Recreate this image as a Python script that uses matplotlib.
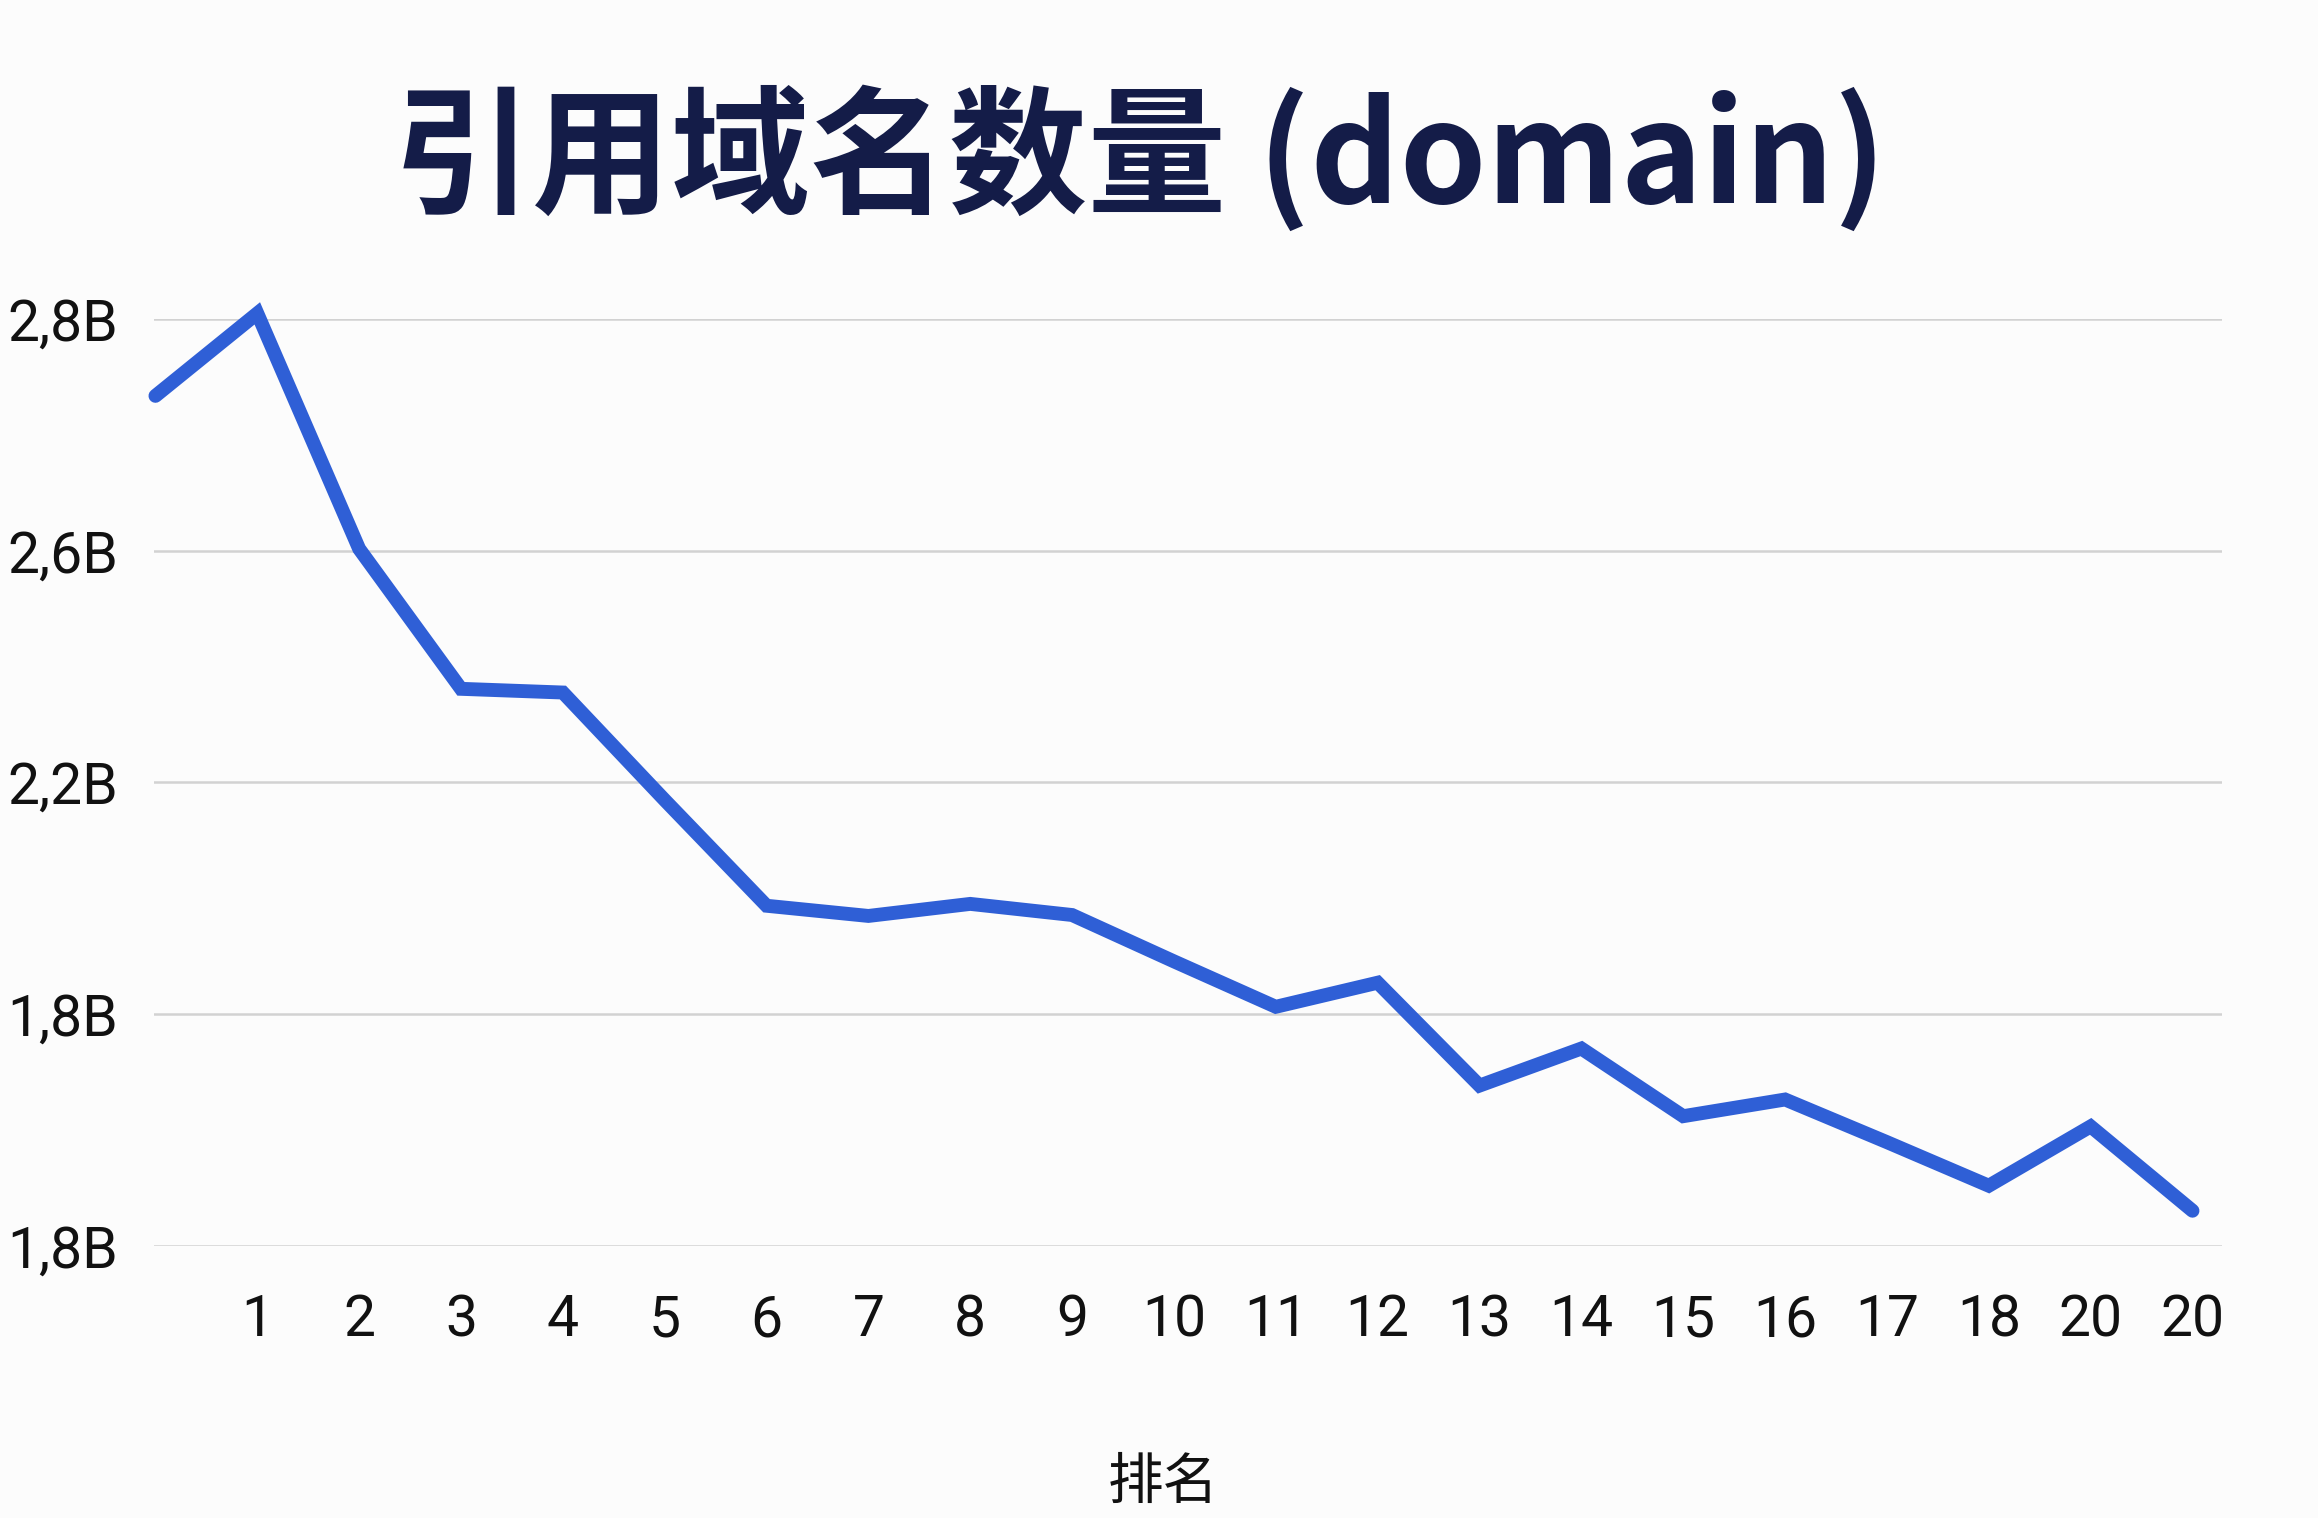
import matplotlib
matplotlib.use("Agg")
import matplotlib.pyplot as plt

# data
ranks = list(range(21))
domains = [2.717, 2.806, 2.552, 2.401, 2.397, 2.281, 2.167, 2.156, 2.169, 2.157,
           2.107, 2.058, 2.084, 1.973, 2.013, 1.940, 1.958, 1.912, 1.865, 1.929, 1.838]
x_ticks = list(range(1, 21))
x_labels = ["1", "2", "3", "4", "5", "6", "7", "8", "9", "10", "11", "12",
            "13", "14", "15", "16", "17", "18", "20", "20"]
y_ticks = [1.8, 2.05, 2.3, 2.55, 2.8]
y_labels = ["1,8B", "1,8B", "2,2B", "2,6B", "2,8B"]

title = "引用域名数量 (domain)"
xlabel = "排名"

plt.rcParams['font.family'] = ['Noto Sans CJK SC', 'DejaVu Sans']

bg = "#fcfcfc"
fig = plt.figure(figsize=(23.18, 15.18), dpi=100, facecolor=bg)
ax = fig.add_axes([0.0664, 0.1792, 0.8922, 0.6107], facecolor=bg)

ax.plot(ranks, domains, color="#2f5fd6", linewidth=10,
        solid_capstyle="round", solid_joinstyle="miter", clip_on=False, zorder=3)

ax.set_xlim(-0.015, 20.29)
ax.set_ylim(1.8, 2.8)
ax.set_yticks(y_ticks)
ax.set_yticklabels(y_labels)
ax.set_xticks(x_ticks)
ax.set_xticklabels(x_labels)
ax.grid(axis="y", color="#d2d2d2", linewidth=1.8)
ax.set_axisbelow(True)
for s in ax.spines.values():
    s.set_visible(False)
ax.tick_params(axis="both", length=0, labelsize=41, colors="#111111")
ax.tick_params(axis="y", pad=26)
ax.tick_params(axis="x", pad=34)
for lab in ax.get_xticklabels() + ax.get_yticklabels():
    lab.set_family(["Roboto", "DejaVu Sans"])

fig.text(0.4915, 0.895, title, ha="center", va="center", fontsize=100,
         fontweight="bold", color="#141c48")
fig.text(0.502, 0.023, xlabel, ha="center", va="center", fontsize=40, color="#111111")

fig.savefig("out.png", dpi=100, facecolor=bg)
